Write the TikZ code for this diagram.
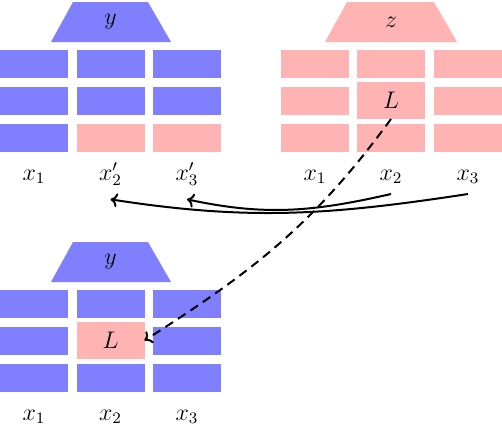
\documentclass[tikz,border=0pt]{standalone}
\usetikzlibrary{arrows.meta}
\definecolor{bl}{RGB}{128,128,255}
\definecolor{pk}{RGB}{255,179,179}
\begin{document}
\begin{tikzpicture}[x=0.5pt,y=-0.5pt,
  every node/.style={font=\fontsize{11.7}{14}\selectfont},
  blk/.style={minimum width=34pt,minimum height=14pt,inner sep=0pt,outer sep=0pt},
  bblk/.style={blk,fill=bl},
  pblk/.style={blk,fill=pk},
  lblk/.style={pblk,minimum height=18.5pt},
  lab/.style={anchor=base,inner sep=2pt},
  arr/.style={line width=1pt,-{To[length=3.5pt,width=7pt]}},
  dsh/.style={line width=1pt,dash pattern=on 4.5pt off 3pt,-{To[length=3.5pt,width=7pt]}}]
\useasboundingbox (0,0) rectangle (502,424);
% top-left group
\fill[bl] (73,2) -- (148,2) -- (171,42) -- (51,42) -- cycle;
\node (ty) at (110.5,22) {$y$};
\foreach \c/\x in {1/34,2/110.5,3/187}{
  \node[bblk] (tl-1-\c) at (\x,64) {};
  \node[bblk] (tl-2-\c) at (\x,101) {};
}
\node[bblk] (tl-3-1) at (34,137.5) {};
\node[pblk] (tl-3-2) at (110.5,137.5) {};
\node[pblk] (tl-3-3) at (187,137.5) {};
\node[lab] (l1) at (34,180) {$x_1$};
\node[lab] (l2) at (110.5,180) {$x'_2$};
\node[lab] (l3) at (187,180) {$x'_3$};
% top-right group
\fill[pk] (347,2) -- (434,2) -- (457,42) -- (325,42) -- cycle;
\node (tz) at (391,22) {$z$};
\foreach \c/\x in {1/315,2/391,3/468}{
  \node[pblk] (tr-1-\c) at (\x,64) {};
  \node[pblk] (tr-3-\c) at (\x,137.5) {};
}
\node[pblk] (tr-2-1) at (315,101) {};
\node[pblk] (tr-2-3) at (468,101) {};
\node[lblk] (Ltop) at (391,100.5) {$L$};
\node[lab] (r1) at (315,180) {$x_1$};
\node[lab] (r2) at (391,180) {$x_2$};
\node[lab] (r3) at (468,180) {$x_3$};
% bottom group
\fill[bl] (73,242) -- (148,242) -- (171,282) -- (51,282) -- cycle;
\node (by) at (110.5,262) {$y$};
\foreach \c/\x in {1/34,2/110.5,3/187}{
  \node[bblk] (bl-1-\c) at (\x,304) {};
  \node[bblk] (bl-3-\c) at (\x,377.5) {};
}
\node[bblk] (bl-2-1) at (34,341) {};
\node[bblk] (bl-2-3) at (187,341) {};
\node[lblk] (Lbot) at (110.5,340.5) {$L$};
\node[lab] (b1) at (34,420) {$x_1$};
\node[lab] (b2) at (110.5,420) {$x_2$};
\node[lab] (b3) at (187,420) {$x_3$};
% connectors
\draw[arr] ([yshift=-3pt]r2.south) .. controls (312,212) and (265,216) .. ([yshift=-4.5pt]l3.south);
\draw[arr] ([yshift=-3pt]r3.south) .. controls (330,215) and (250,221) .. ([yshift=-4.5pt]l2.south);
\draw[dsh] (Ltop.south) .. controls (315,223) and (255,270) .. (Lbot.east);
\end{tikzpicture}
\end{document}
